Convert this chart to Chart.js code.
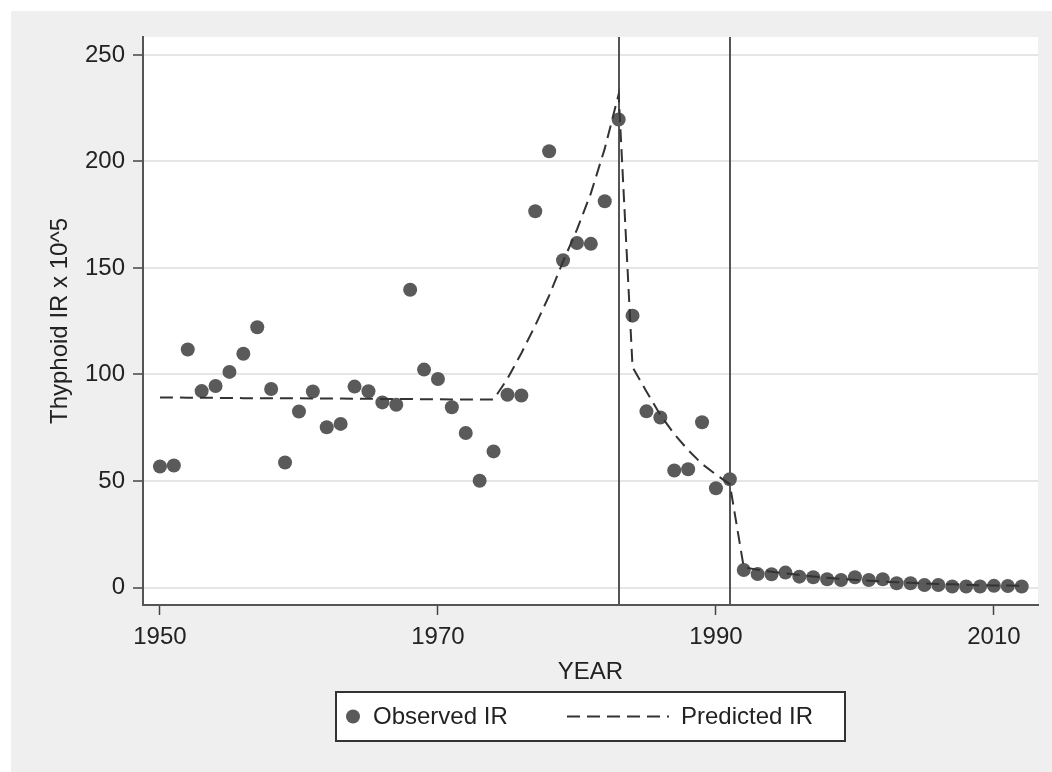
<!DOCTYPE html>
<html>
<head>
<meta charset="utf-8">
<script src="https://cdn.jsdelivr.net/npm/chart.js@4/dist/chart.umd.min.js"></script>
<style>
  html, body { margin: 0; padding: 0; background: #fff; }
  #wrap { position: absolute; left: 11px; top: 11px; width: 1041px; height: 761px; background: #efefef; }
</style>
</head>
<body>
<div id="wrap"><canvas id="irChart" width="1041" height="761"></canvas></div>
<script>
// years 1950..2012
const years = [1950, 1951, 1952, 1953, 1954, 1955, 1956, 1957, 1958, 1959,
    1960, 1961, 1962, 1963, 1964, 1965, 1966, 1967, 1968, 1969,
    1970, 1971, 1972, 1973, 1974, 1975, 1976, 1977, 1978, 1979,
    1980, 1981, 1982, 1983, 1984, 1985, 1986, 1987, 1988, 1989,
    1990, 1991, 1992, 1993, 1994, 1995, 1996, 1997, 1998, 1999,
    2000, 2001, 2002, 2003, 2004, 2005, 2006, 2007, 2008, 2009,
    2010, 2011, 2012];

const observedIR = [56.8, 57.3, 111.7, 92.2, 94.6, 101.2, 109.7, 122.2, 93.2, 58.7,
    82.6, 92.0, 75.2, 76.8, 94.3, 92.1, 86.9, 85.8, 139.8, 102.3,
    97.9, 84.6, 72.5, 50.1, 63.9, 90.5, 90.1, 176.6, 204.8, 153.6,
    161.7, 161.3, 181.3, 219.7, 127.6, 82.7, 79.8, 54.9, 55.5, 77.6,
    46.6, 50.8, 8.2, 6.3, 6.2, 7.0, 5.1, 4.8, 3.9, 3.5,
    4.8, 3.5, 3.9, 2.0, 2.0, 1.2, 1.2, 0.5, 0.5, 0.5,
    0.8, 0.7, 0.5];

const predictedIR = [89.2, 89.2, 89.1, 89.1, 89.0, 89.0, 88.9, 88.9, 88.9, 88.8,
    88.8, 88.7, 88.7, 88.7, 88.6, 88.6, 88.5, 88.5, 88.5, 88.4,
    88.4, 88.3, 88.3, 88.3, 88.2, 98.0, 110.0, 123.0, 137.0, 153.0,
    168.0, 185.0, 206.0, 231.5, 103.5, 92.0, 81.0, 72.0, 64.5, 58.0,
    53.0, 48.5, 9.5, 8.3, 7.4, 6.6, 5.9, 5.2, 4.6, 4.1,
    3.6, 3.2, 2.8, 2.5, 2.2, 1.9, 1.7, 1.5, 1.3, 1.1,
    1.0, 0.9, 0.8];

const xTicks = [1950, 1970, 1990, 2010];
const yTicks = [0, 50, 100, 150, 200, 250];
const breakYears = [1983, 1991];

const FONT = 'Liberation Sans, Arial, sans-serif';
const markColor = '#5a5a5a';
const textColor = '#222';

const plotBg = {
    id: 'plotBg',
    beforeDraw(chart) {
        const { ctx, chartArea: a } = chart;
        ctx.save();
        ctx.fillStyle = '#fff';
        ctx.fillRect(a.left, a.top, a.right - a.left, a.bottom - a.top);
        ctx.restore();
    }
};

const breakLines = {
    id: 'breakLines',
    beforeDatasetsDraw(chart) {
        const { ctx, chartArea: a, scales: { x } } = chart;
        ctx.save();
        ctx.strokeStyle = '#555';
        ctx.lineWidth = 2;
        breakYears.forEach(function (yr) {
            const px = Math.round(x.getPixelForValue(yr));
            ctx.beginPath();
            ctx.moveTo(px, a.top);
            ctx.lineTo(px, a.bottom);
            ctx.stroke();
        });
        ctx.restore();
    }
};

// boxed legend under the x axis title
const boxLegend = {
    id: 'boxLegend',
    afterDraw(chart) {
        const { ctx, chartArea: a } = chart;
        const cx = (a.left + a.right) / 2;
        const w = 509, h = 49;
        const left = Math.round(cx - w / 2), top = 681;
        const midY = top + h / 2;
        ctx.save();
        ctx.fillStyle = '#fff';
        ctx.fillRect(left, top, w, h);
        ctx.strokeStyle = '#333';
        ctx.lineWidth = 2;
        ctx.strokeRect(left, top, w, h);

        ctx.fillStyle = markColor;
        ctx.beginPath();
        ctx.arc(left + 17, midY, 7, 0, Math.PI * 2);
        ctx.fill();

        ctx.font = '24px ' + FONT;
        ctx.fillStyle = textColor;
        ctx.textBaseline = 'middle';
        ctx.fillText(chart.data.datasets[0].label, left + 37, midY + 1);

        ctx.strokeStyle = '#333';
        ctx.lineWidth = 2;
        ctx.setLineDash([13, 7]);
        ctx.beginPath();
        ctx.moveTo(left + 231, midY);
        ctx.lineTo(left + 333, midY);
        ctx.stroke();
        ctx.setLineDash([]);

        ctx.fillText(chart.data.datasets[1].label, left + 345, midY + 1);
        ctx.restore();
    }
};

new Chart(document.getElementById('irChart').getContext('2d'), {
    type: 'scatter',
    data: {
        datasets: [{
            label: 'Observed IR',
            data: years.map((yr, i) => ({ x: yr, y: observedIR[i] })),
            backgroundColor: markColor,
            borderWidth: 0,
            pointRadius: 7,
            order: 2
        }, {
            label: 'Predicted IR',
            data: years.map((yr, i) => ({ x: yr, y: predictedIR[i] })),
            showLine: true,
            borderColor: '#333',
            borderWidth: 2,
            borderDash: [13, 7],
            pointRadius: 0,
            fill: false,
            tension: 0,
            order: 1
        }]
    },
    options: {
        responsive: false,
        animation: false,
        layout: { padding: { top: 26, right: 14, left: 0, bottom: 0 } },
        plugins: {
            legend: { display: false },
            tooltip: { enabled: false }
        },
        scales: {
            x: {
                type: 'linear',
                min: 1948.78,
                max: 2013.17,
                afterBuildTicks(scale) { scale.ticks = xTicks.map(v => ({ value: v })); },
                afterFit(scale) { scale.height = 167; },
                border: { color: '#555', width: 2 },
                grid: { drawOnChartArea: false, drawTicks: true, tickLength: 10, tickColor: '#444', tickWidth: 1.5 },
                ticks: {
                    color: textColor,
                    padding: 8,
                    maxRotation: 0,
                    font: { family: FONT, size: 24 },
                    callback: v => String(v)
                },
                title: {
                    display: true,
                    text: 'YEAR',
                    color: textColor,
                    font: { family: FONT, size: 24 },
                    padding: { top: 0, bottom: 85 }
                }
            },
            y: {
                min: -8.2,
                max: 258.4,
                afterBuildTicks(scale) { scale.ticks = yTicks.map(v => ({ value: v })); },
                afterFit(scale) { scale.width = 132; },
                border: { color: '#555', width: 2 },
                grid: { color: '#e6e6e6', lineWidth: 2, drawTicks: true, tickLength: 10, tickColor: '#444', tickWidth: 1.5 },
                ticks: {
                    color: textColor,
                    padding: 8,
                    font: { family: FONT, size: 24 },
                    callback: v => String(v)
                },
                title: {
                    display: true,
                    text: 'Thyphoid IR x 10^5',
                    color: textColor,
                    font: { family: FONT, size: 24 },
                    padding: { top: 35, bottom: 0 }
                }
            }
        }
    },
    plugins: [plotBg, breakLines, boxLegend]
});
</script>
</body>
</html>
